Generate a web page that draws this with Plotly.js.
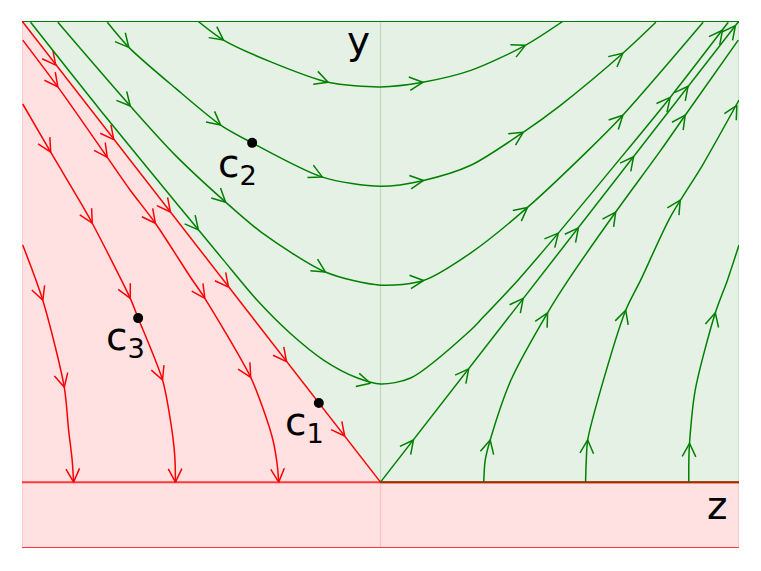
<!DOCTYPE html>
<html>
<head>
<meta charset="utf-8">
<script src="https://cdn.plot.ly/plotly-3.0.1.min.js"></script>
<style>
  html, body { margin: 0; padding: 0; background: #fff; }
  #plot { width: 761px; height: 571px; }
</style>
</head>
<body>
<div id="plot"></div>
<script>
// Axis ranges (z horizontal, y vertical)
const zRange = [-5, 5];
const yRange = [-1, 7];

// Stable separatrix (red, into the origin) and unstable one (green, out of it)
const sepInZ = [-5.0, 0.0];
const sepInY = [7.0, 0.0];
const sepInArrowZ = [-4.53, -3.72, -2.93, -2.12, -1.31, -0.50];
const sepInArrowY = [6.33, 5.20, 4.10, 2.96, 1.83, 0.70];

const sepOutZ = [0.0, 5.0];
const sepOutY = [0.0, 7.0];
const sepOutArrowZ = [0.46, 1.23, 1.99, 2.76, 3.53, 4.29, 4.95];
const sepOutArrowY = [0.64, 1.72, 2.79, 3.86, 4.94, 6.01, 6.93];

// Red trajectories (left of the separatrix, falling onto the z axis)
const red1Z = [-4.99, -4.50, -3.81, -3.49, -3.14, -2.65, -2.45, -1.81, -1.63, -1.50, -1.44, -1.42];
const red1Y = [6.71, 6.00, 4.93, 4.43, 3.93, 3.11, 2.79, 1.59, 1.09, 0.64, 0.26, 0];
const red1ArrowZ = [-4.50, -3.81, -3.14, -2.45, -1.81, -1.42];
const red1ArrowY = [6.00, 4.93, 3.93, 2.79, 1.59, 0];

const red2Z = [-4.99, -4.60, -4.16, -4.02, -3.49, -3.38, -3.04, -2.93, -2.87, -2.86];
const red2Y = [5.74, 5.01, 4.20, 3.93, 2.79, 2.49, 1.55, 0.94, 0.41, 0];
const red2ArrowZ = [-4.60, -4.02, -3.49, -3.04, -2.86];
const red2ArrowY = [5.01, 3.93, 2.79, 1.55, 0];

const red3Z = [-4.99, -4.71, -4.41, -4.35, -4.30, -4.28];
const red3Y = [3.60, 2.76, 1.44, 0.79, 0.33, 0];
const red3ArrowZ = [-4.71, -4.41, -4.28];
const red3ArrowY = [2.76, 1.44, 0];

// Green trajectories above the separatrix (turning at z = 0)
const green1Z = [-2.55, -2.19, -1.53, -0.73, 0, 0.59, 1.26, 2.02, 2.55];
const green1Y = [7.0, 6.71, 6.38, 6.07, 6.0, 6.07, 6.25, 6.63, 7.0];
const green1ArrowZ = [-2.19, -0.73, 0.59, 2.02];
const green1ArrowY = [6.71, 6.07, 6.07, 6.63];

const green2Z = [-3.81, -3.51, -2.86, -2.23, -1.79, -0.81, 0, 0.60, 1.26, 1.99, 2.51, 3.38, 3.84];
const green2Y = [6.98, 6.60, 5.98, 5.42, 5.15, 4.63, 4.49, 4.58, 4.81, 5.31, 5.72, 6.51, 6.98];
const green2ArrowZ = [-3.51, -2.23, -0.81, 0.60, 1.99, 3.38];
const green2ArrowY = [6.60, 5.42, 4.63, 4.58, 5.31, 6.51];

const green3Z = [-4.50, -3.49, -2.86, -2.16, -1.67, -0.77, 0, 0.60, 1.26, 2.05, 2.90, 3.38, 4.50];
const green3Y = [6.98, 5.71, 4.96, 4.25, 3.80, 3.19, 2.99, 3.06, 3.48, 4.17, 5.04, 5.57, 6.98];
const green3ArrowZ = [-3.49, -2.16, -0.77, 0.60, 2.05, 3.38];
const green3ArrowY = [5.71, 4.25, 3.19, 3.06, 4.17, 5.57];

const green4Z = [-4.88, -3.91, -2.82, -2.54, -2.19, -1.72, -1.26, -0.79, -0.32, 0, 0.42, 1.26, 1.42, 1.92, 2.48, 3.44, 4.04, 4.85];
const green4Y = [6.98, 5.65, 4.20, 3.83, 3.37, 2.76, 2.26, 1.85, 1.58, 1.49, 1.58, 2.31, 2.49, 3.07, 3.78, 5.04, 5.84, 6.98];
const green4ArrowZ = [-2.54, -0.14, 2.48, 4.04, 4.77];
const green4ArrowY = [3.83, 1.50, 3.78, 5.84, 6.86];

// Green trajectories leaving the z axis on the right
const green5Z = [1.44, 1.46, 1.53, 1.82, 2.33, 2.62, 3.28, 3.91, 4.25, 4.99];
const green5Y = [0, 0.33, 0.64, 1.55, 2.57, 3.07, 4.10, 5.04, 5.57, 6.71];
const green5ArrowZ = [1.53, 2.33, 3.28, 4.25];
const green5ArrowY = [0.64, 2.57, 4.10, 5.57];

const green6Z = [2.86, 2.87, 2.89, 3.07, 3.42, 3.63, 4.04, 4.49, 5.0];
const green6Y = [0, 0.33, 0.64, 1.40, 2.61, 3.07, 4.02, 4.81, 5.80];
const green6ArrowZ = [2.89, 3.42, 4.18, 4.97];
const green6ArrowY = [0.64, 2.61, 4.28, 5.72];

const green7Z = [4.30, 4.30, 4.31, 4.39, 4.67, 4.84, 5.0];
const green7Y = [0, 0.30, 0.59, 1.40, 2.57, 3.07, 3.60];
const green7ArrowZ = [4.31, 4.67];
const green7ArrowY = [0.59, 2.57];

// Marked points and their labels
const pointZ = [-0.86, -1.79, -3.38];
const pointY = [1.20, 5.15, 2.49];
const labelText = ['c<sub>1</sub>', 'c<sub>2</sub>', 'c<sub>3</sub>'];
const labelZ = [-1.06, -2.00, -3.56];
const labelY = [0.88, 4.80, 2.18];

const axisText = ['y', 'z'];
const axisTextZ = [-0.30, 4.70];
const axisTextY = [6.70, -0.36];

// Plot box in pixels (matches the margins below)
const plotL = 22, plotT = 21, plotW = 717, plotH = 527;

function toPx(z, y) {
    return [plotL + (z - zRange[0]) / (zRange[1] - zRange[0]) * plotW,
            plotT + (yRange[1] - y) / (yRange[1] - yRange[0]) * plotH];
}
function toData(px, py) {
    return [zRange[0] + (px - plotL) / plotW * (zRange[1] - zRange[0]),
            yRange[1] - (py - plotT) / plotH * (yRange[1] - yRange[0])];
}

// Build open "V" arrow heads, pointing along the curve at each tip
function arrowHeads(curveZ, curveY, tipZ, tipY, outZ, outY) {
    const armLen = 15;
    const ang = 27 * Math.PI / 180;
    const pts = curveZ.map((z, i) => toPx(z, curveY[i]));
    for (let k = 0; k < tipZ.length; k++) {
        const p = toPx(tipZ[k], tipY[k]);
        // nearest segment gives the direction
        let best = 0, bestD = Infinity;
        for (let i = 0; i < pts.length - 1; i++) {
            const a = pts[i], b = pts[i + 1];
            const vx = b[0] - a[0], vy = b[1] - a[1];
            let t = ((p[0] - a[0]) * vx + (p[1] - a[1]) * vy) / (vx * vx + vy * vy);
            t = Math.max(0, Math.min(1, t));
            const dx = a[0] + t * vx - p[0], dy = a[1] + t * vy - p[1];
            const d = dx * dx + dy * dy;
            if (d < bestD) { bestD = d; best = i; }
        }
        const a = pts[best], b = pts[best + 1];
        let dx = b[0] - a[0], dy = b[1] - a[1];
        const n = Math.hypot(dx, dy);
        const bx = -dx / n, by = -dy / n;
        for (const s of [1, -1]) {
            const rx = bx * Math.cos(s * ang) - by * Math.sin(s * ang);
            const ry = bx * Math.sin(s * ang) + by * Math.cos(s * ang);
            const e = toData(p[0] + armLen * rx, p[1] + armLen * ry);
            outZ.push(e[0]); outY.push(e[1]);
            if (s === 1) { outZ.push(tipZ[k]); outY.push(tipY[k]); }
        }
        outZ.push(null); outY.push(null);
    }
}

const redCurves = [
    [sepInZ, sepInY, sepInArrowZ, sepInArrowY, 'linear'],
    [red1Z, red1Y, red1ArrowZ, red1ArrowY, 'spline'],
    [red2Z, red2Y, red2ArrowZ, red2ArrowY, 'spline'],
    [red3Z, red3Y, red3ArrowZ, red3ArrowY, 'spline']
];
const greenCurves = [
    [sepOutZ, sepOutY, sepOutArrowZ, sepOutArrowY, 'linear'],
    [green1Z, green1Y, green1ArrowZ, green1ArrowY, 'spline'],
    [green2Z, green2Y, green2ArrowZ, green2ArrowY, 'spline'],
    [green3Z, green3Y, green3ArrowZ, green3ArrowY, 'spline'],
    [green4Z, green4Y, green4ArrowZ, green4ArrowY, 'spline'],
    [green5Z, green5Y, green5ArrowZ, green5ArrowY, 'spline'],
    [green6Z, green6Y, green6ArrowZ, green6ArrowY, 'spline'],
    [green7Z, green7Y, green7ArrowZ, green7ArrowY, 'spline']
];

const RED = '#ff0000';
const GREEN = '#008000';
const traces = [];

function addCurves(curves, color) {
    const headZ = [], headY = [];
    curves.forEach(c => {
        traces.push({
            x: c[0], y: c[1], type: 'scatter', mode: 'lines',
            line: { color: color, width: 1.5, shape: c[4], smoothing: 0.8 },
            hoverinfo: 'skip'
        });
        arrowHeads(c[0], c[1], c[2], c[3], headZ, headY);
    });
    traces.push({
        x: headZ, y: headY, type: 'scatter', mode: 'lines',
        line: { color: color, width: 1.5 }, connectgaps: false, hoverinfo: 'skip'
    });
}

// z axis: green under red on the right half, plain red on the left
traces.push({ x: [0, zRange[1]], y: [0, 0], mode: 'lines', line: { color: GREEN, width: 2 }, hoverinfo: 'skip' });
traces.push({ x: [zRange[0], zRange[1]], y: [0, 0], mode: 'lines', line: { color: 'rgba(255,0,0,0.75)', width: 2 }, hoverinfo: 'skip' });
// top and bottom borders
traces.push({ x: zRange, y: [yRange[1], yRange[1]], mode: 'lines', line: { color: GREEN, width: 2 }, hoverinfo: 'skip' });
traces.push({ x: zRange, y: [yRange[0], yRange[0]], mode: 'lines', line: { color: RED, width: 1.5 }, hoverinfo: 'skip' });

addCurves(redCurves, RED);
addCurves(greenCurves, GREEN);

traces.push({
    x: pointZ, y: pointY, type: 'scatter', mode: 'markers',
    marker: { color: 'black', size: 10 }, hoverinfo: 'skip'
});

// Regions: green basin and pink one, drawn as filled paths
function pathOf(zs, ys) {
    return zs.map((z, i) => (i ? 'L' : 'M') + z + ',' + ys[i]).join(' ') + ' Z';
}
const pinkFill = 'rgb(255,225,225)';
const greenFill = 'rgb(229,241,229)';
const shapes = [
    { type: 'path', layer: 'below', fillcolor: greenFill, line: { width: 0 },
      path: pathOf([sepInZ[0], zRange[1], zRange[1], 0], [yRange[1], yRange[1], 0, 0]) },
    { type: 'path', layer: 'below', fillcolor: pinkFill, line: { width: 0 },
      path: pathOf([sepInZ[0], 0, zRange[0]], [sepInY[0], 0, 0]) },
    { type: 'rect', layer: 'below', fillcolor: pinkFill, line: { width: 0 },
      x0: zRange[0], x1: zRange[1], y0: yRange[0], y1: 0 },
    // faint region edges
    { type: 'line', layer: 'below', x0: 0, x1: 0, y0: 0, y1: yRange[1], line: { color: 'rgba(0,128,0,0.18)', width: 1.2 } },
    { type: 'line', layer: 'below', x0: 0, x1: 0, y0: yRange[0], y1: 0, line: { color: 'rgba(255,0,0,0.15)', width: 1.2 } },
    { type: 'line', layer: 'below', x0: zRange[1], x1: zRange[1], y0: 0, y1: yRange[1], line: { color: 'rgba(0,128,0,0.18)', width: 1.2 } },
    { type: 'line', layer: 'below', x0: zRange[1], x1: zRange[1], y0: yRange[0], y1: 0, line: { color: 'rgba(255,0,0,0.15)', width: 1.2 } },
    { type: 'line', layer: 'below', x0: zRange[0], x1: zRange[0], y0: yRange[0], y1: yRange[1], line: { color: 'rgba(255,0,0,0.15)', width: 1.2 } }
];

const labelFont = { family: 'DejaVu Sans', size: 39, color: 'black' };
const annotations = [];
labelText.forEach((t, i) => annotations.push({
    x: labelZ[i], y: labelY[i], text: t, showarrow: false,
    xanchor: 'center', yanchor: 'middle', font: labelFont
}));
axisText.forEach((t, i) => annotations.push({
    x: axisTextZ[i], y: axisTextY[i], text: t, showarrow: false,
    xanchor: 'center', yanchor: 'middle', font: labelFont
}));

const layout = {
    width: 761, height: 571,
    margin: { l: plotL, r: 761 - plotL - plotW, t: plotT, b: 571 - plotT - plotH },
    paper_bgcolor: 'white', plot_bgcolor: 'white',
    showlegend: false,
    xaxis: { range: zRange, visible: false, fixedrange: true },
    yaxis: { range: yRange, visible: false, fixedrange: true },
    shapes: shapes,
    annotations: annotations
};

Plotly.newPlot('plot', traces, layout, { staticPlot: true });
</script>
</body>
</html>
